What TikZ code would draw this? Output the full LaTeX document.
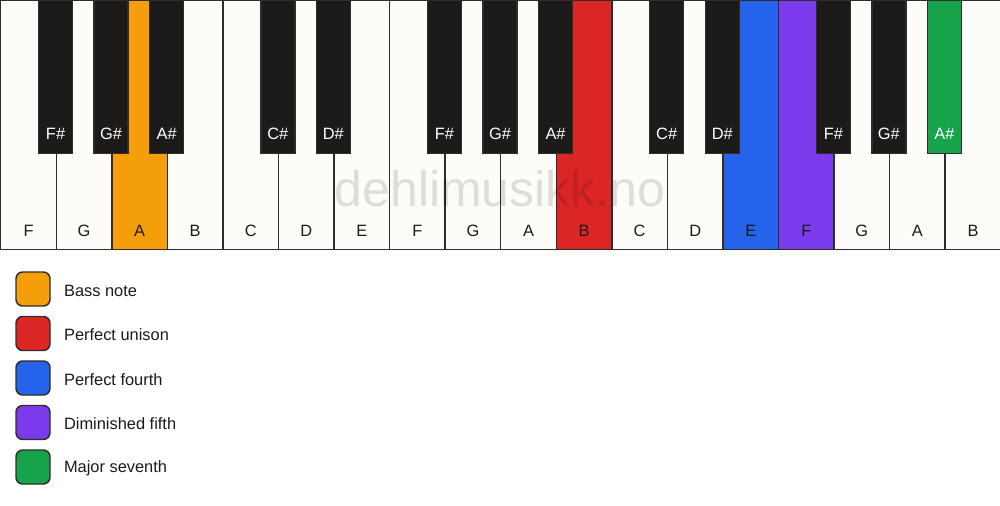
\documentclass[tikz,border=0pt]{standalone}
\usepackage{fontspec}
\setmainfont{Liberation Sans}
\usetikzlibrary{positioning}
\definecolor{keywhite}{HTML}{FDFCF9}
\definecolor{keyblack}{HTML}{1C1B19}
\definecolor{keyedge}{HTML}{2E2D2B}
\definecolor{bass}{HTML}{F59E0B}
\definecolor{unison}{HTML}{DC2626}
\definecolor{fourth}{HTML}{2563EB}
\definecolor{dimfifth}{HTML}{7C3AED}
\definecolor{seventh}{HTML}{16A34A}
\tikzset{
  whitekey/.style={draw=keyedge, line width=1.1pt, minimum width=41.667pt,
    minimum height=186.75pt, anchor=north west, inner sep=0pt},
  blackkey/.style={draw=keyedge, line width=1.1pt, minimum width=25.5pt,
    minimum height=114.75pt, anchor=north, inner sep=0pt},
  wname/.style={anchor=base, yshift=10.2pt, text=keyblack, font=\fontsize{12.3}{14}\selectfont},
  bname/.style={anchor=base, yshift=11pt, text=white, font=\fontsize{12.3}{14}\selectfont},
  legendbox/.style={draw=keyedge, line width=1.1pt, rounded corners=5pt,
    minimum size=25.5pt, inner sep=0pt},
  legendtext/.style={anchor=west, inner sep=0pt, yshift=-1.2pt, text=keyblack, font=\fontsize{12.3}{14}\selectfont}
}
\begin{document}
\begin{tikzpicture}[x=0.75pt,y=-0.75pt]
  \useasboundingbox[fill=white] (0,0) rectangle (1000,506);

  % white keys
  \foreach \n/\c [count=\i from 0] in {F/keywhite,G/keywhite,A/bass,B/keywhite,
      C/keywhite,D/keywhite,E/keywhite,F/keywhite,G/keywhite,A/keywhite,
      B/unison,C/keywhite,D/keywhite,E/fourth,F/dimfifth,G/keywhite,
      A/keywhite,B/keywhite}
    \node[whitekey, fill=\c, label={[wname]south:\n}] (w\i) at (\i*55.556,0) {};

  % black keys
  \foreach \n/\b/\c in {F\#/1/keyblack,G\#/2/keyblack,A\#/3/keyblack,
      C\#/5/keyblack,D\#/6/keyblack,F\#/8/keyblack,G\#/9/keyblack,
      A\#/10/keyblack,C\#/12/keyblack,D\#/13/keyblack,F\#/15/keyblack,
      G\#/16/keyblack,A\#/17/seventh}
    \node[blackkey, fill=\c, label={[bname]south:\n}] (b\b) at (\b*55.556,0) {};

  % watermark
  \node[anchor=base, inner sep=0pt, text=black, text opacity=0.12,
    font=\fontsize{37.5}{40}\selectfont] (wm) at (500,207) {dehlimusikk.no};

  % legend
  \node[legendbox, fill=bass] (lg1) at (33,289) {};
  \node[legendtext, right=9.8pt of lg1] (lt1) {Bass note};
  \node[legendbox, fill=unison] (lg2) at (33,333.5) {};
  \node[legendtext, right=9.8pt of lg2] (lt2) {Perfect unison};
  \node[legendbox, fill=fourth] (lg3) at (33,378) {};
  \node[legendtext, right=9.8pt of lg3] (lt3) {Perfect fourth};
  \node[legendbox, fill=dimfifth] (lg4) at (33,422.5) {};
  \node[legendtext, right=9.8pt of lg4] (lt4) {Diminished fifth};
  \node[legendbox, fill=seventh] (lg5) at (33,467) {};
  \node[legendtext, right=9.8pt of lg5] (lt5) {Major seventh};
\end{tikzpicture}
\end{document}
